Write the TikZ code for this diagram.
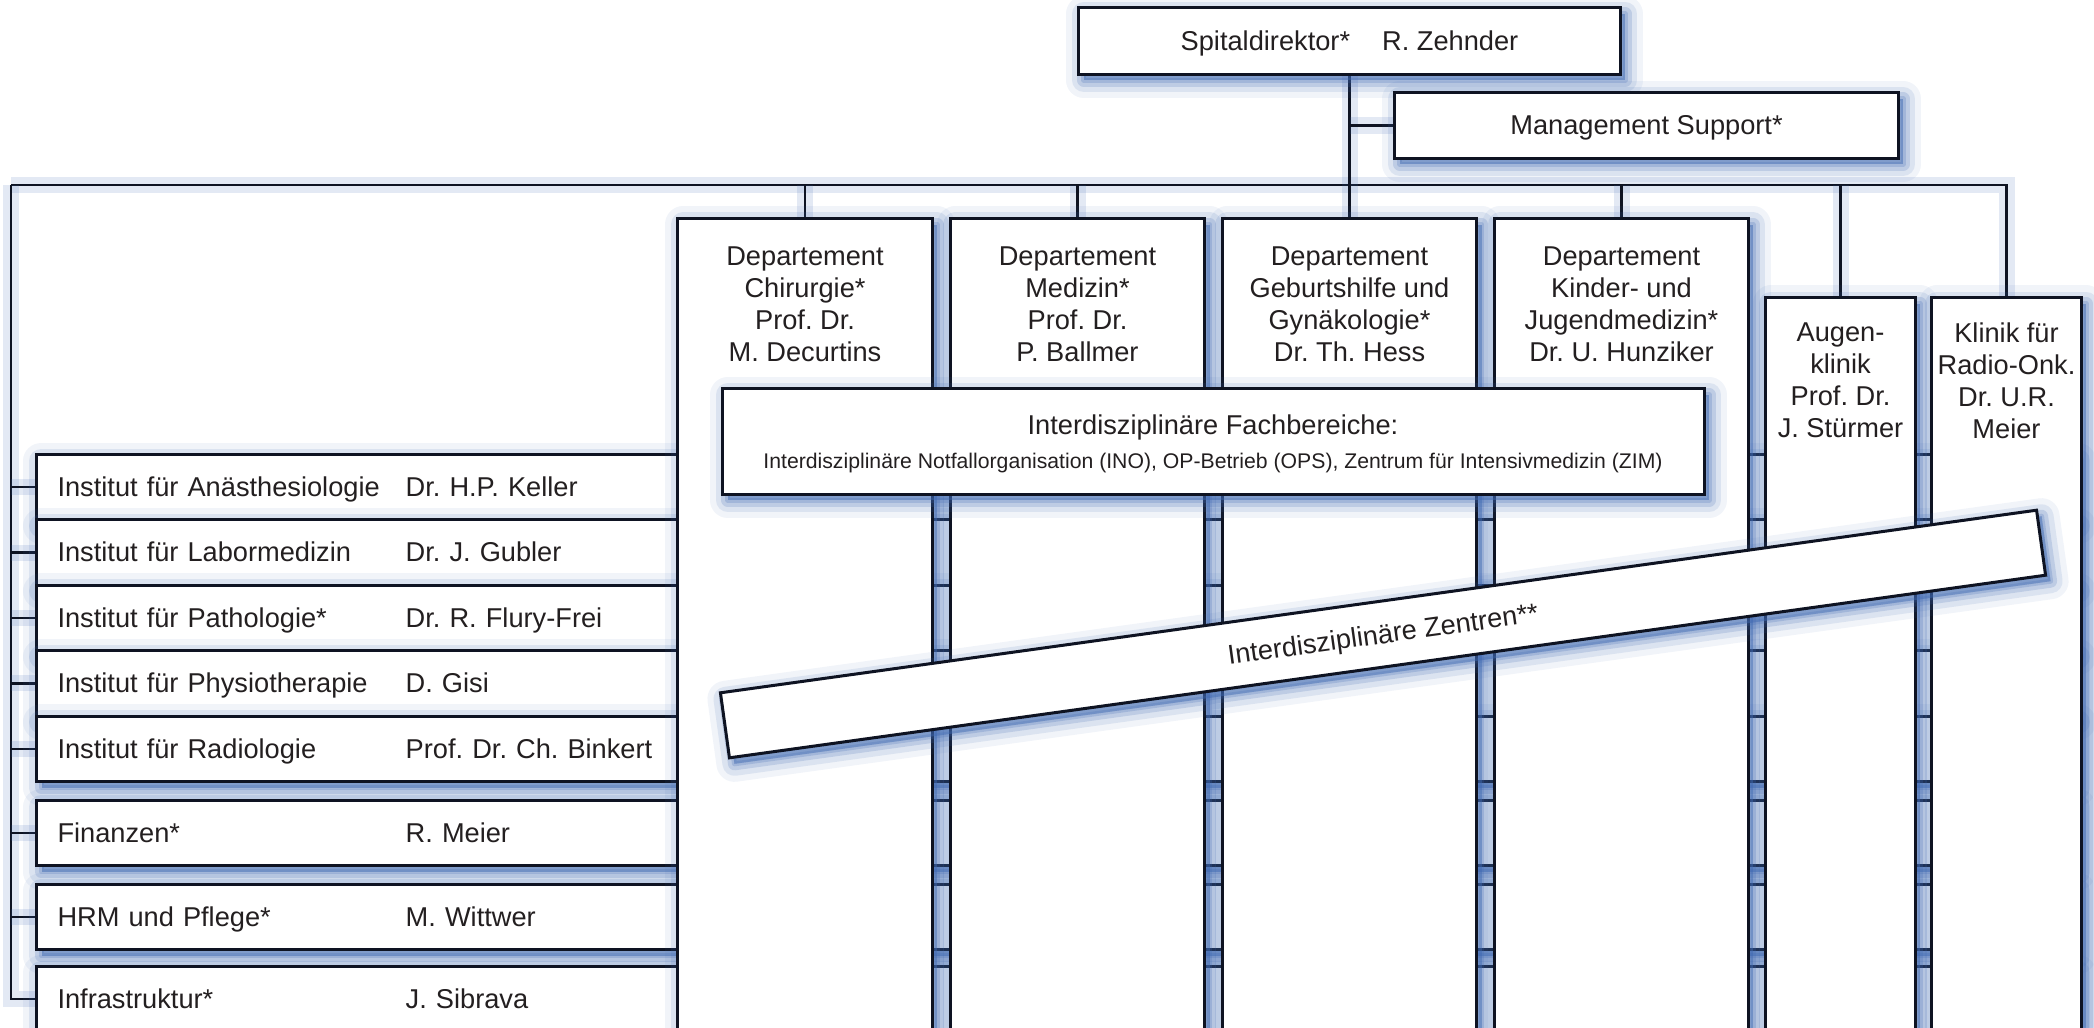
\documentclass[tikz,border=0pt]{standalone}
\usepackage{fontspec}
\setmainfont{Liberation Sans}
\frenchspacing
\usetikzlibrary{backgrounds}
\definecolor{ink}{HTML}{231F20}
\definecolor{edge}{HTML}{0E1322}
\definecolor{glow}{HTML}{3F69B3}
\newcommand{\chartfont}{\fontsize{7.74pt}{9.1pt}\selectfont}
\newcommand{\smallchartfont}{\fontsize{6.03pt}{7pt}\selectfont}
\tikzset{
  glowbox/.style={
    preaction={fill=glow, draw=glow, line width=0.36cm, line join=round, opacity=0.07, transform canvas={shift={(0.05cm,-0.06cm)}}},
    preaction={fill=glow, draw=glow, line width=0.24cm, line join=round, opacity=0.12, transform canvas={shift={(0.05cm,-0.06cm)}}},
    preaction={fill=glow, draw=glow, line width=0.13cm, line join=round, opacity=0.18, transform canvas={shift={(0.05cm,-0.06cm)}}},
    preaction={fill=glow, draw=glow, line width=0.05cm, line join=round, opacity=0.22, transform canvas={shift={(0.05cm,-0.06cm)}}}},
  unitbox/.style={glowbox, draw=edge, fill=white, line width=0.03cm, inner sep=0pt, text=ink, font=\chartfont, text height=0.187cm, text depth=0cm},
  rowbox/.style={unitbox, anchor=north west, minimum height=0.654cm, text width=19.93cm, inner xsep=0.21cm, align=left},
  colbox/.style={unitbox, anchor=north, minimum width=2.54cm},
  conn/.style={draw=edge, line width=0.025cm, preaction={draw=glow, line width=0.16cm, opacity=0.14}},
  lab/.style={text=ink, font=\chartfont, inner sep=0pt, align=center},
  capline/.style={lab, text height=0.187cm, text depth=0cm},
}
\begin{document}
\begin{tikzpicture}[x=0.01cm, y=-0.01cm]
\useasboundingbox (0,0) rectangle (2094,1027);
\begin{pgfonlayer}{background}
\fill[white] (0,0) rectangle (2094,1027);
\end{pgfonlayer}

% top management
\node[unitbox, minimum width=5.41cm, minimum height=0.66cm] (spital) at (1349.5,41) {Spitaldirektor*\hspace{0.32cm}R. Zehnder};
\node[unitbox, minimum width=5.03cm, minimum height=0.65cm] (mgmt) at (1646.5,125.5) {Management Support*};

% institutes and staff units
\node[rowbox] (anae) at (35,453) {\makebox[3.48cm][l]{Institut für Anästhesiologie}Dr. H.P. Keller};
\node[rowbox] (labor) at (35,518.4) {\makebox[3.48cm][l]{Institut für Labormedizin}Dr. J. Gubler};
\node[rowbox] (patho) at (35,583.8) {\makebox[3.48cm][l]{Institut für Pathologie*}Dr. R. Flury-Frei};
\node[rowbox] (physio) at (35,649.2) {\makebox[3.48cm][l]{Institut für Physiotherapie}D. Gisi};
\node[rowbox] (radiol) at (35,714.6) {\makebox[3.48cm][l]{Institut für Radiologie}Prof. Dr. Ch. Binkert};
\node[rowbox] (fin) at (35,799) {\makebox[3.48cm][l]{Finanzen*}R. Meier};
\node[rowbox] (hrm) at (35,883) {\makebox[3.48cm][l]{HRM und Pflege*}M. Wittwer};
\node[rowbox] (infra) at (35,965) {\makebox[3.48cm][l]{Infrastruktur*}J. Sibrava};

% departments and clinics
\node[colbox, minimum height=8.43cm] (chir) at (805,217) {};
\node[colbox, minimum height=8.43cm] (med) at (1077.5,217) {};
\node[colbox, minimum height=8.43cm] (geb) at (1349.5,217) {};
\node[colbox, minimum height=8.43cm, minimum width=2.53cm] (kind) at (1621.5,217) {};
\node[colbox, minimum height=7.64cm, minimum width=1.49cm] (augen) at (1840.5,296) {};
\node[colbox, minimum height=7.64cm, minimum width=1.49cm] (radonk) at (2006.5,296) {};
\node[lab] (chirT) at (805,304) {Departement\\Chirurgie*\\Prof. Dr.\\M. Decurtins};
\node[lab] (medT) at (1077.5,304) {Departement\\Medizin*\\Prof. Dr.\\P. Ballmer};
\node[lab] (gebT) at (1349.5,304) {Departement\\Geburtshilfe und\\Gynäkologie*\\Dr. Th. Hess};
\node[lab] (kindT) at (1621.5,304) {Departement\\Kinder- und\\Jugendmedizin*\\Dr. U. Hunziker};
\node[lab] (augenT) at (1840.5,380.5) {Augen-\\klinik\\Prof. Dr.\\J. Stürmer};
\node[lab] (radonkT) at (2006.5,380.5) {Klinik für\\Radio-Onk.\\Dr. U.R.\\Meier};

% interdisciplinary boxes
\node[unitbox, minimum width=9.81cm, minimum height=1.05cm] (fach) at (1213.5,441.5) {};
\node[capline] (fachT) at (1213,425) {Interdisziplinäre Fachbereiche:};
\node[lab, font=\smallchartfont, text height=0.146cm, text depth=0cm] (fachS) at (1213,461) {Interdisziplinäre Notfallorganisation (INO), OP-Betrieb (OPS), Zentrum für Intensivmedizin (ZIM)};
\node[unitbox, rotate=7.9, minimum width=13.28cm, minimum height=0.656cm] (zentren) at (1383,634) {Interdisziplinäre Zentren**};

% connectors
\begin{pgfonlayer}{background}
\coordinate (busL) at (11,185);
\draw[conn] (busL) -| (radonk.north);
\draw[conn] (busL) |- (infra.west);
\foreach \r in {anae,labor,patho,physio,radiol,fin,hrm}
  \draw[conn] (\r.west) -- (\r.west -| busL);
\foreach \c in {chir,med,kind,augen}
  \draw[conn] (\c.north) -- (\c.north |- busL);
\draw[conn] (spital.south) -- (geb.north);
\draw[conn] (mgmt.west) -- (mgmt.west -| spital.south);
\end{pgfonlayer}
\end{tikzpicture}
\end{document}
